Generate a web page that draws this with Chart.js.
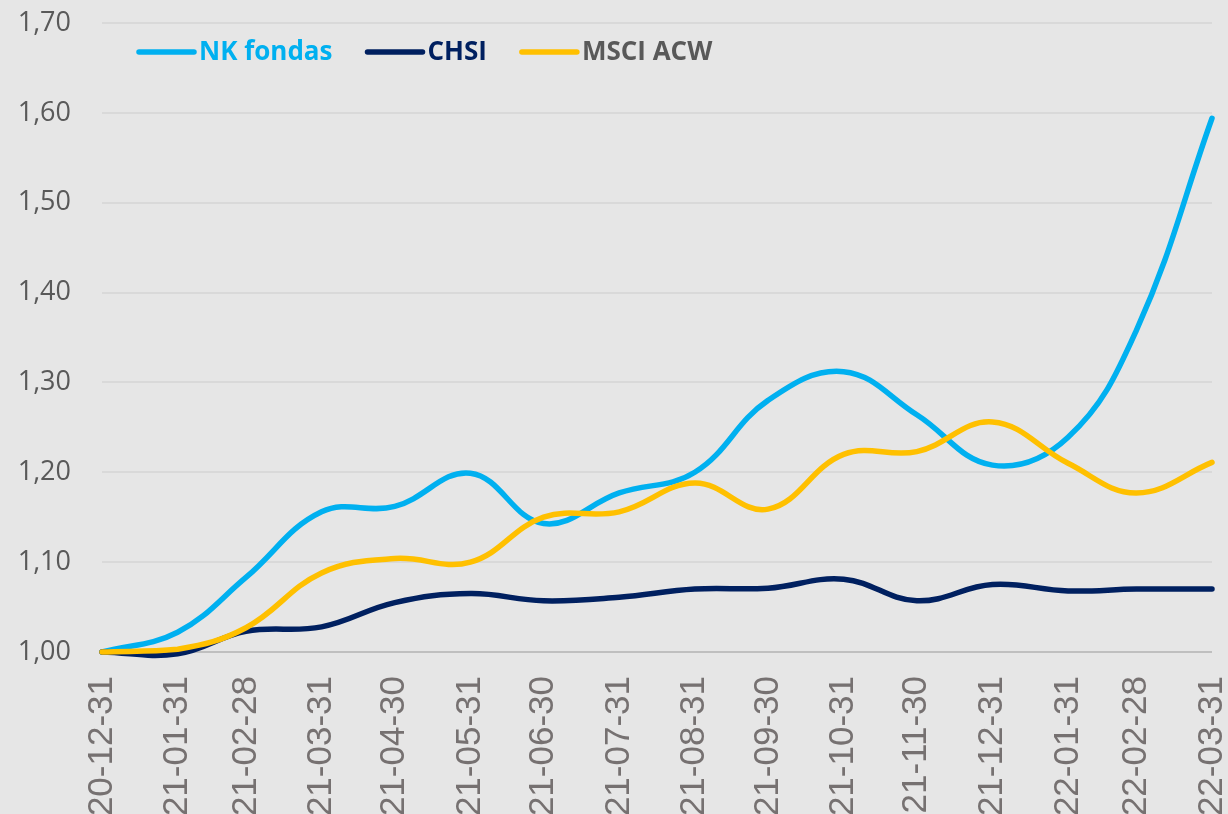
<!DOCTYPE html>
<html>
<head>
<meta charset="utf-8">
<script src="https://cdn.jsdelivr.net/npm/chart.js@4"></script>
<style>
  html, body { margin: 0; padding: 0; background: #e6e6e6; }
  #wrap { width: 1228px; height: 814px; }
</style>
</head>
<body>
<div id="wrap"><canvas id="chart" width="1228" height="814"></canvas></div>
<script>
// month-end dates (yy-mm-dd) as shown on the axis
const dates = [
  "20-12-31", "21-01-31", "21-02-28", "21-03-31", "21-04-30", "21-05-31",
  "21-06-30", "21-07-31", "21-08-31", "21-09-30", "21-10-31", "21-11-30",
  "21-12-31", "22-01-31", "22-02-28", "22-03-31",
];

const nkFondas = [1.000, 1.022, 1.083, 1.156, 1.162, 1.199, 1.143, 1.177,
  1.200, 1.280, 1.312, 1.264, 1.208, 1.239, 1.358, 1.594];
const chsi = [1.000, 0.998, 1.023, 1.028, 1.055, 1.065, 1.057, 1.061,
  1.070, 1.071, 1.081, 1.057, 1.075, 1.068, 1.070, 1.070];
const msciAcw = [1.000, 1.003, 1.027, 1.088, 1.104, 1.100, 1.150, 1.156,
  1.188, 1.159, 1.220, 1.223, 1.256, 1.210, 1.177, 1.211];

const yTicks = [1.0, 1.1, 1.2, 1.3, 1.4, 1.5, 1.6, 1.7];

// date axis: days since the first date
const dayMs = 24 * 3600 * 1000;
const base = Date.parse("20" + dates[0]);
const days = dates.map((d) => Math.round((Date.parse("20" + d) - base) / dayMs));

function points(values) {
  return values.map((v, i) => ({ x: days[i], y: v }));
}

function series(label, values, color, order) {
  return {
    label,
    data: points(values),
    borderColor: color,
    backgroundColor: color,
    borderWidth: 5.5,
    borderCapStyle: "round",
    borderJoinStyle: "round",
    pointRadius: 0,
    tension: 0.4,
    clip: 10,
    order,
  };
}

const bgPlugin = {
  id: "bg",
  beforeDraw(chart) {
    const { ctx, width, height } = chart;
    ctx.save();
    ctx.fillStyle = "#e6e6e6";
    ctx.fillRect(0, 0, width, height);
    ctx.restore();
  },
};

// legend drawn inside the plot, like the original
const legendPlugin = {
  id: "insideLegend",
  afterDraw(chart) {
    const { ctx } = chart;
    const items = [
      { ds: chart.data.datasets[0], text: "#00b0f0" },
      { ds: chart.data.datasets[1], text: "#002060" },
      { ds: chart.data.datasets[2], text: "#595959" },
    ];
    let x = 139;
    const y = 52;
    ctx.save();
    ctx.font = "bold 26px 'Open Sans'";
    ctx.textBaseline = "middle";
    for (const it of items) {
      ctx.strokeStyle = it.ds.borderColor;
      ctx.lineWidth = 5.5;
      ctx.lineCap = "round";
      ctx.beginPath();
      ctx.moveTo(x, y);
      ctx.lineTo(x + 55, y);
      ctx.stroke();
      x += 60;
      ctx.fillStyle = it.text;
      ctx.fillText(it.ds.label, x, y + 1);
      x += ctx.measureText(it.ds.label).width + 35;
    }
    ctx.restore();
  },
};

new Chart(document.getElementById("chart"), {
  type: "line",
  data: {
    datasets: [
      series("NK fondas", nkFondas, "#00b0f0", 2),
      series("CHSI", chsi, "#002060", 1),
      series("MSCI ACW", msciAcw, "#ffc000", 0),
    ],
  },
  options: {
    responsive: false,
    animation: false,
    layout: { padding: { top: 23, right: 16, left: 0, bottom: 0 } },
    plugins: { legend: { display: false }, tooltip: { enabled: false } },
    scales: {
      x: {
        type: "linear",
        min: days[0],
        max: days[days.length - 1],
        afterBuildTicks: (scale) => {
          scale.ticks = days.map((v) => ({ value: v }));
        },
        afterFit: (scale) => {
          scale.height = 162;
          scale.paddingLeft = 0;
          scale.paddingRight = 0;
        },
        grid: { display: false, drawTicks: false },
        border: { display: false },
        ticks: {
          autoSkip: false,
          maxRotation: 90,
          minRotation: 90,
          padding: 24,
          color: "#767171",
          font: { family: "'Liberation Sans'", size: 35 },
          callback: (v) => dates[days.indexOf(v)] ?? "",
        },
      },
      y: {
        min: 1.0,
        max: 1.7,
        afterBuildTicks: (scale) => {
          scale.ticks = yTicks.map((v) => ({ value: v }));
        },
        afterFit: (scale) => {
          scale.width = 102;
          scale.paddingTop = 0;
          scale.paddingBottom = 0;
        },
        grid: {
          drawTicks: false,
          lineWidth: 2,
          color: (c) => (c.tick && c.tick.value === 1 ? "#bfbfbf" : "#d9d9d9"),
        },
        border: { display: false },
        ticks: {
          padding: 31,
          color: "#595959",
          font: { family: "'Open Sans'", size: 27 },
          callback: (v) => v.toFixed(2).replace(".", ","),
        },
      },
    },
  },
  plugins: [bgPlugin, legendPlugin],
});
</script>
</body>
</html>
